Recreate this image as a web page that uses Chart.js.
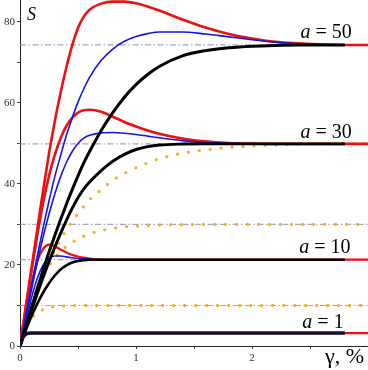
<!DOCTYPE html>
<html>
<head>
<meta charset="utf-8">
<script src="https://cdn.jsdelivr.net/npm/chart.js@4.4.1/dist/chart.umd.min.js"></script>
<style>
  html, body { margin: 0; padding: 0; background: #fff; }
  canvas { display: block; }
</style>
</head>
<body>
<canvas id="chart" width="368" height="370"></canvas>
<script>
// shear strain, %
const gamma = [0, 0.025, 0.05, 0.075, 0.1, 0.15, 0.2, 0.25, 0.3, 0.35, 0.4, 0.45, 0.5, 0.55, 0.6,
  0.7, 0.8, 0.9, 1.0, 1.1, 1.2, 1.4, 1.6, 1.8, 2.0, 2.2, 2.4, 2.6, 2.8, 3.0];

// stress S (null = curve not drawn there)
const redA50 = [0, 4.9, 9.8, 14.6, 19.4, 29, 38.5, 47.5, 55.5, 62.5, 68.8, 74.2, 78.5, 81.3, 83,
  84.5, 85, 85, 84.6, 83.8, 82.8, 80.6, 78.6, 77, 75.9, 75.1, 74.7, 74.4, 74.3, 74.3];
const blueA50 = [0, 3.8, 7.6, 11.3, 15, 22.3, 29.3, 35.8, 41.8, 47, 52, 56.3, 60.2, 63.5, 66.3,
  70.5, 73.3, 75.2, 76.4, 77.1, 77.5, 77.5, 77, 76.3, 75.6, 75, 74.6, 74.4, 74.3, null];
const blackA50 = [0, 2.4, 4.8, 7.2, 9.6, 14.3, 18.8, 23.2, 27.3, 31.2, 35, 38.6, 42, 45.2, 48,
  53.2, 57.6, 61.4, 64.5, 67, 69, 71.6, 72.9, 73.6, 74, 74.2, 74.3, 74.3, 74.3, null];

const redA30 = [0, 4.7, 9.4, 14, 18.6, 27.5, 35.5, 42, 47.2, 51.3, 54.3, 56.3, 57.6, 58.2, 58.3,
  57.8, 56.6, 55.3, 54.2, 53.2, 52.4, 51.2, 50.5, 50.1, 49.95, 49.9, 49.9, 49.9, 49.9, 49.9];
const blueA30 = [0, 3.5, 7, 10.5, 14, 20.8, 27, 32.5, 37.5, 41.8, 45.3, 48, 50, 51.3, 52,
  52.6, 52.7, 52.5, 52.2, 51.8, 51.4, 50.7, 50.2, 50, 49.9, 49.9, 49.9, 49.9, 49.9, null];
const blackA30 = [0, 2.2, 4.4, 6.6, 8.8, 13, 17, 20.8, 24.4, 27.8, 31, 34, 36.6, 38.8, 40.5,
  43.3, 45.6, 47.3, 48.5, 49.2, 49.6, 49.85, 49.9, 49.9, 49.9, 49.9, 49.9, 49.9, 49.9, null];

const redA10 = [0, 4, 8, 11.8, 15.3, 21, 24, 25, 24.6, 23.8, 23.1, 22.5, 22.1, 21.8, 21.6,
  21.4, 21.3, 21.3, 21.3, 21.3, 21.3, 21.3, 21.3, 21.3, 21.3, 21.3, 21.3, 21.3, 21.3, 21.3];
const blueA10 = [0, 3, 6, 9, 12, 16.8, 20, 21.6, 22.2, 22.2, 22, 21.8, 21.6, 21.5, 21.4,
  21.3, 21.3, 21.3, 21.3, 21.3, 21.3, 21.3, 21.3, 21.3, 21.3, 21.3, 21.3, 21.3, 21.3, null];
const blackA10 = [0, 2, 3.9, 5.7, 7.4, 10.5, 13.2, 15.5, 17.4, 18.9, 19.9, 20.6, 21, 21.2, 21.3,
  21.3, 21.3, 21.3, 21.3, 21.3, 21.3, 21.3, 21.3, 21.3, 21.3, 21.3, 21.3, 21.3, 21.3, null];

const redA1 = [0, 2.1, 2.9, 3.15, 3.2, 3.2, 3.2, 3.2, 3.2, 3.2, 3.2, 3.2, 3.2, 3.2, 3.2,
  3.2, 3.2, 3.2, 3.2, 3.2, 3.2, 3.2, 3.2, 3.2, 3.2, 3.2, 3.2, 3.2, 3.2, 3.2];
const blackA1 = [0, 2.1, 2.9, 3.15, 3.2, 3.2, 3.2, 3.2, 3.2, 3.2, 3.2, 3.2, 3.2, 3.2, 3.2,
  3.2, 3.2, 3.2, 3.2, 3.2, 3.2, 3.2, 3.2, 3.2, 3.2, 3.2, 3.2, 3.2, 3.2, null];

const dots50 = [0, 2.6, 5.1, 7.4, 9.6, 13.7, 17.3, 20.6, 23.6, 26.3, 28.7, 30.8, 32.7, 34.5, 36.1,
  38.6, 40.9, 42.6, 44, 45.2, 46.2, 47.6, 48.4, 49, 49.4, 49.6, 49.8, 49.9, 49.9, 49.9];
const dots30 = [0, 3, 5.8, 8.2, 10.4, 14.2, 17.2, 19.7, 21.7, 23.3, 24.6, 25.6, 26.5, 27.1, 27.7,
  28.5, 29, 29.4, 29.6, 29.75, 29.85, 29.95, 30, 30, 30, 30, 30, 30, 30, 30];
const dots10 = [0, 2.5, 4.4, 5.9, 6.9, 8.3, 9, 9.5, 9.7, 9.85, 9.9, 9.95, 10, 10, 10,
  10, 10, 10, 10, 10, 10, 10, 10, 10, 10, 10, 10, 10, 10, 10];

// dash-dot reference levels
const levels = [74.3, 49.9, 30, 21.3, 10];
const levelSpan = [0, 3];

// curve family labels
const aValues = ['50', '30', '10', '1'];

const pts = arr => gamma.map((g, i) => ({ x: g, y: arr[i] }));

const RED = '#ee1010';
const BLUE = '#1515e8';
const BLACK = '#000000';
const ORANGE = '#f2b12c';

function curve(arr, color, width) {
  return { data: pts(arr), borderColor: color, borderWidth: width, fill: false };
}
function dotted(arr) {
  return {
    data: pts(arr), borderColor: ORANGE, borderWidth: 3.3,
    borderDash: [0, 11], borderCapStyle: 'round', fill: false
  };
}

// listed bottom to top; reversed below because Chart.js paints dataset 0 last
const datasets = [];
levels.forEach(v => {
  datasets.push({
    data: levelSpan.map(g => ({ x: g, y: v })),
    borderColor: 'rgba(150,150,185,0.85)', borderWidth: 1.2,
    borderDash: [6, 2.5, 1.5, 2.5], fill: false
  });
});
datasets.push(dotted(dots10), dotted(dots30), dotted(dots50));
datasets.push(curve(redA1, RED, 2.2), curve(redA10, RED, 2.2), curve(redA30, RED, 2.6), curve(redA50, RED, 2.6));
datasets.push(curve(blueA10, BLUE, 1.6), curve(blueA30, BLUE, 1.6), curve(blueA50, BLUE, 1.6));
datasets.push(curve(blackA10, BLACK, 2.6), curve(blackA30, BLACK, 2.9), curve(blackA50, BLACK, 3));
datasets.push(curve(blackA1, '#14102c', 3.6));
datasets.reverse();

const SERIF = '"Liberation Serif", "Times New Roman", serif';

const textPlugin = {
  id: 'texts',
  afterDraw(chart) {
    const { ctx, chartArea, scales: { x, y } } = chart;
    const labelPos = [[2.86, 76.0], [2.86, 51.4], [2.85, 23.0], [2.79, 4.4]];
    ctx.save();
    ctx.fillStyle = '#000';
    ctx.textBaseline = 'alphabetic';
    aValues.forEach((val, i) => {
      const right = x.getPixelForValue(labelPos[i][0]);
      const base = y.getPixelForValue(labelPos[i][1]);
      ctx.font = 'italic 20px ' + SERIF;
      const aw = ctx.measureText('a').width;
      ctx.font = '20px ' + SERIF;
      const rest = ' = ' + val;
      const rw = ctx.measureText(rest).width;
      const left = right - aw - rw;
      ctx.font = 'italic 20px ' + SERIF;
      ctx.fillText('a', left, base);
      ctx.font = '20px ' + SERIF;
      ctx.fillText(rest, left + aw, base);
    });
    ctx.font = 'italic 18px ' + SERIF;
    ctx.textAlign = 'left';
    ctx.fillText('S', chartArea.left + 7, chartArea.top + 20);
    ctx.font = '22px ' + SERIF;
    ctx.textAlign = 'right';
    ctx.fillText('γ, %', 364, chartArea.bottom + 17);
    ctx.restore();
  }
};

new Chart(document.getElementById('chart'), {
  type: 'line',
  data: { datasets },
  plugins: [textPlugin],
  options: {
    responsive: false,
    animation: false,
    events: [],
    layout: { padding: 0 },
    elements: {
      point: { radius: 0 },
      line: { cubicInterpolationMode: 'monotone' }
    },
    plugins: { legend: { display: false }, tooltip: { enabled: false } },
    scales: {
      x: {
        type: 'linear', min: 0, max: 3,
        border: { display: true, color: '#222', width: 1 },
        grid: { drawOnChartArea: false, drawTicks: true, tickLength: 3, color: '#444' },
        ticks: {
          stepSize: 0.5, autoSkip: false, maxRotation: 0, padding: 3,
          color: '#333', font: { family: SERIF, size: 11 },
          callback: v => (Number.isInteger(v) && v < 3 ? String(v) : '')
        },
        afterFit: s => { s.height = 24; s.paddingLeft = 0; s.paddingRight = 0; }
      },
      y: {
        type: 'linear', min: 0, max: 85.4,
        border: { display: true, color: '#222', width: 1 },
        grid: { drawOnChartArea: false, drawTicks: true, tickLength: 3, color: '#444' },
        ticks: {
          stepSize: 10, includeBounds: false, autoSkip: false, padding: 2,
          color: '#333', font: { family: SERIF, size: 11 },
          callback: v => (v % 20 === 0 ? String(v) : '')
        },
        afterFit: s => { s.width = 20; s.paddingTop = 0; s.paddingBottom = 0; }
      }
    }
  }
});
</script>
</body>
</html>
